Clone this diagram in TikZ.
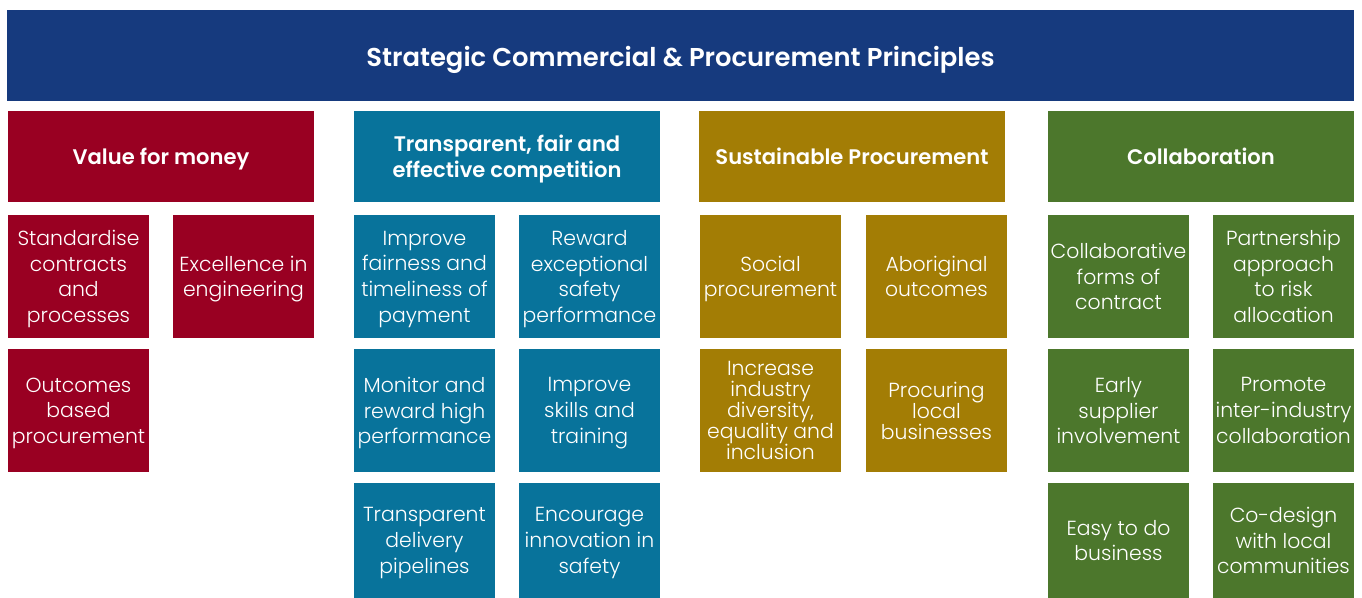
\documentclass[tikz,border=0pt]{standalone}
\usepackage{fontspec}
\setmainfont{Poppins Light}[BoldFont={Poppins SemiBold}]
\usetikzlibrary{positioning}

\definecolor{titleblue}{RGB}{22,58,126}
\definecolor{valred}{RGB}{153,0,34}
\definecolor{compteal}{RGB}{8,115,155}
\definecolor{sustgold}{RGB}{163,125,5}
\definecolor{collgreen}{RGB}{76,119,44}

\begin{document}
\begin{tikzpicture}[x=0.02cm, y=-0.02cm,
    box/.style={inner sep=0pt, align=center, text=white, font=\fontsize{11.6}{14.6}\selectfont},
    titlebox/.style={box, minimum width=26.94cm, minimum height=1.82cm, fill=titleblue,
        font=\fontsize{14.7}{17}\selectfont\bfseries, text height=13pt, text depth=0pt},
    headbox/.style={box, minimum width=6.12cm, minimum height=1.82cm,
        font=\fontsize{12}{15}\selectfont\bfseries, text height=12.6pt, text depth=3pt},
    headtwo/.style={headbox, text height=, text depth=-1.5pt},
    itembox/.style={box, minimum width=2.82cm, minimum height=2.46cm, text depth=-2.3pt},
    lastbox/.style={itembox, minimum height=2.3cm}]
    \useasboundingbox (0,0) rectangle (1362,598);

    % title bar
    \node[titlebox] (title) at (680.5,55.5) {Strategic Commercial \& Procurement Principles};

    % principle headers
    \node[headbox, fill=valred] (value) at (161,156.5) {Value for money};
    \node[headtwo, fill=compteal] (comp) at (507,156.5) {Transparent, fair and\\effective competition};
    \node[headbox, fill=sustgold] (sust) at (852,156.5) {Sustainable Procurement};
    \node[headbox, fill=collgreen] (coll) at (1201,156.5) {Collaboration};

    % value for money
    \node[itembox, fill=valred] (std) at (78.5,276.5) {Standardise\\contracts\\and\\processes};
    \node[itembox, fill=valred] (excel) at (243.5,276.5) {Excellence in\\engineering};
    \node[itembox, fill=valred] (outc) at (78.5,410.5) {Outcomes\\based\\procurement};

    % competition
    \node[itembox, fill=compteal] (pay) at (424.5,276.5) {Improve\\fairness and\\timeliness of\\payment};
    \node[itembox, fill=compteal] (safe) at (589.5,276.5) {Reward\\exceptional\\safety\\performance};
    \node[itembox, fill=compteal] (perf) at (424.5,410.5) {Monitor and\\reward high\\performance};
    \node[itembox, fill=compteal] (skill) at (589.5,410.5) {Improve\\skills and\\training};
    \node[lastbox, fill=compteal] (pipe) at (424.5,540.5) {Transparent\\delivery\\pipelines};
    \node[lastbox, fill=compteal] (innov) at (589.5,540.5) {Encourage\\innovation in\\safety};

    % sustainable procurement
    \node[itembox, fill=sustgold] (social) at (770.5,276.5) {Social\\procurement};
    \node[itembox, fill=sustgold] (abor) at (936.5,276.5) {Aboriginal\\outcomes};
    \node[itembox, fill=sustgold, font=\fontsize{11.6}{12}\selectfont] (div) at (770.5,410.5) {Increase\\industry\\diversity,\\equality and\\inclusion};
    \node[itembox, fill=sustgold, font=\fontsize{11.6}{12}\selectfont] (local) at (936.5,410.5) {Procuring\\local\\businesses};

    % collaboration
    \node[itembox, fill=collgreen] (forms) at (1118.5,276.5) {Collaborative\\forms of\\contract};
    \node[itembox, fill=collgreen] (risk) at (1283.5,276.5) {Partnership\\approach\\to risk\\allocation};
    \node[itembox, fill=collgreen] (early) at (1118.5,410.5) {Early\\supplier\\involvement};
    \node[itembox, fill=collgreen] (inter) at (1283.5,410.5) {Promote\\inter-industry\\collaboration};
    \node[lastbox, fill=collgreen] (easy) at (1118.5,540.5) {Easy to do\\business};
    \node[lastbox, fill=collgreen] (codes) at (1283.5,540.5) {Co-design\\with local\\communities};
\end{tikzpicture}
\end{document}
